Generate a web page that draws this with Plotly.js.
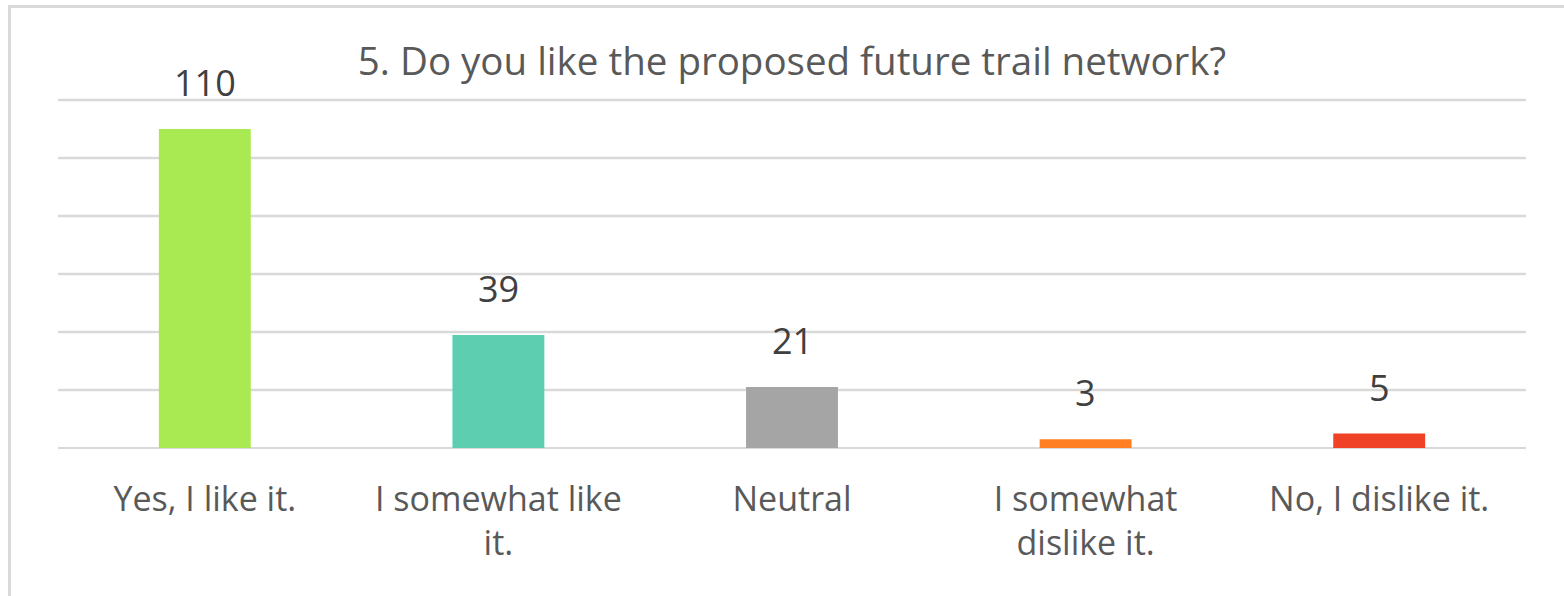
<!DOCTYPE html>
<html>
<head>
<meta charset="utf-8">
<script src="https://cdn.plot.ly/plotly-3.0.1.min.js"></script>
<style>
  html, body { margin: 0; padding: 0; background: #ffffff; overflow: hidden; }
  #frame { position: absolute; left: 8px; top: 5px; width: 1700px; height: 800px; border: 3px solid #d9d9d9; box-sizing: border-box; }
  #chart { position: absolute; left: 0; top: 0; width: 1564px; height: 596px; }
</style>
</head>
<body>
<div id="frame"></div>
<div id="chart"></div>
<script>
const categories = ["Yes, I like it.", "I somewhat like it.", "Neutral", "I somewhat dislike it.", "No, I dislike it."];
const tickLabels = ["Yes, I like it.", "I somewhat like<br>it.", "Neutral", "I somewhat<br>dislike it.", "No, I dislike it."];
const counts = [110, 39, 21, 3, 5];
const barColors = ["#A9EA52", "#5DCFB0", "#A5A5A5", "#FF7F22", "#EF4226"];
const gridValues = [20, 40, 60, 80, 100, 120];

const FONT = "'Open Sans', Lato, sans-serif";

const trace = {
  type: "bar",
  x: categories,
  y: counts,
  marker: { color: barColors, line: { width: 0 } },
  hoverinfo: "none"
};

const annotations = categories.map((c, i) => ({
  x: c, y: counts[i], xref: "x", yref: "y",
  text: String(counts[i]), showarrow: false,
  yanchor: "bottom", yshift: 20,
  font: { family: FONT, size: 36, color: "#404040" }
}));

const gridShapes = gridValues.map(v => ({
  type: "line", xref: "paper", yref: "y", layer: "below",
  x0: 0, x1: 1, y0: v, y1: v,
  line: { color: "#d9d9d9", width: 2.5 }
}));

const layout = {
  width: 1564, height: 596,
  margin: { l: 58, r: 38, t: 98, b: 148 },
  paper_bgcolor: "rgba(0,0,0,0)",
  plot_bgcolor: "rgba(0,0,0,0)",
  showlegend: false,
  bargap: 0.687,
  title: {
    text: "5. Do you like the proposed future trail network?",
    font: { family: FONT, size: 38.5, color: "#595959" },
    x: 0.5, xref: "paper", xanchor: "center",
    y: 0.896, yref: "container", yanchor: "middle"
  },
  xaxis: {
    type: "category",
    tickvals: categories,
    ticktext: tickLabels,
    tickfont: { family: FONT, size: 34, color: "#595959" },
    ticks: "",
    ticklabelstandoff: 28,
    showline: false,
    showgrid: false,
    zeroline: false,
    fixedrange: true
  },
  yaxis: {
    range: [0, 120.7],
    showticklabels: false,
    showgrid: false,
    zeroline: true,
    zerolinecolor: "#d9d9d9",
    zerolinewidth: 2.5,
    fixedrange: true
  },
  shapes: gridShapes,
  annotations: annotations
};

Plotly.newPlot("chart", [trace], layout, { displayModeBar: false, staticPlot: true });
</script>
</body>
</html>
